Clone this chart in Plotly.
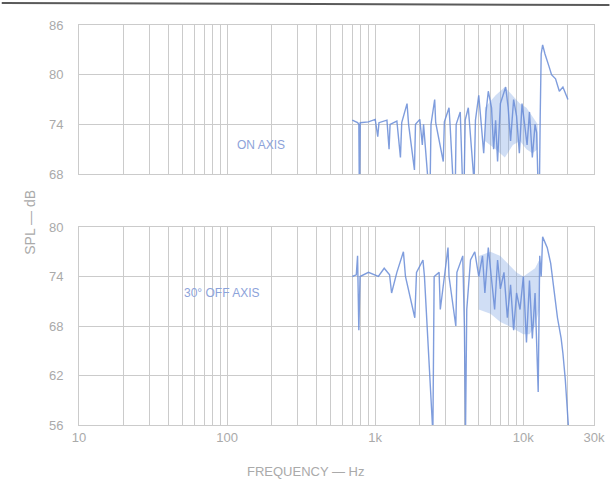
import plotly.graph_objects as go
from plotly.subplots import make_subplots

# ---------------- data ----------------
on_f = [700, 760, 775, 783, 792, 900, 1000, 1040, 1060, 1200, 1240, 1260, 1400, 1480, 1510,
        1640, 1680, 1840, 1870, 2000, 2080, 2120, 2300, 2340, 2380, 2520, 2560, 2880, 2930,
        3150, 3200, 3450, 3520, 3750, 3950, 4050, 4250, 4350, 4650, 4750, 5000,
        5200, 5400, 5600, 5800, 6100, 6300, 6500, 6700, 7000, 7300, 7600, 7900, 8200, 8600,
        9000, 9400, 9800, 10200, 10600, 11000, 11500, 12000, 12300, 12600, 12800, 13000,
        13200, 13500, 14000, 14900, 15500, 16500, 17500, 18500, 19500, 20000]
on_db = [74.5, 74.2, 74.0, 63.5, 74.2, 74.3, 74.6, 72.5, 74.2, 74.5, 71.0, 74.0, 74.4, 70.0, 74.2,
         76.5, 74.0, 68.5, 74.0, 74.6, 71.5, 74.0, 66.0, 64.8, 74.0, 77.0, 74.2, 69.5, 74.3,
         76.0, 74.0, 63.0, 74.0, 75.5, 63.0, 74.5, 76.0, 74.0, 67.0, 74.5, 77.5,
         74.0, 70.5, 75.5, 78.0, 76.0, 71.0, 74.5, 69.5, 76.5, 77.5, 78.5, 76.0, 72.0, 77.0,
         75.0, 70.5, 76.5, 74.0, 71.5, 75.5, 70.0, 74.0, 73.0, 66.0, 64.0, 75.0,
         82.5, 83.6, 82.5, 81.0, 80.0, 79.5, 78.0, 78.5, 77.5, 77.0]

off_f = [700, 745, 760, 775, 790, 900, 1050, 1150, 1250, 1290, 1400, 1550, 1600, 1850, 1900,
         2100, 2150, 2400, 2450, 2500, 2700, 2750, 3100, 3150, 3500, 3560, 3900, 4000, 4070,
         4150, 4400, 4700, 5000, 5300, 5500, 5800, 6100, 6400, 6700, 7000, 7400, 7800, 8200,
         8600, 9000, 9500, 10000, 10500, 11000, 11500, 12000, 12600, 12900, 13200, 13500,
         14000, 14500, 15300, 16000, 17000, 18000, 18500, 19200, 19700, 20000, 20300]
off_db = [74.0, 74.2, 76.5, 67.5, 74.0, 74.5, 74.0, 75.0, 74.2, 72.0, 74.5, 77.0, 74.0, 69.0, 74.5,
          76.0, 74.0, 57.0, 55.0, 74.0, 74.5, 70.0, 77.5, 74.0, 68.0, 74.5, 76.5, 68.0, 55.0,
          70.0, 76.0, 77.0, 74.0, 76.5, 72.0, 77.5, 74.0, 70.0, 76.0, 72.5, 74.5, 69.0, 73.0,
          67.5, 72.0, 70.0, 74.0, 66.0, 73.5, 66.5, 72.0, 60.0, 76.5, 74.0, 78.8,
          78.0, 77.5, 75.6, 72.5, 69.0, 66.5, 64.7, 61.5, 59.0, 58.0, 55.0]

on_band_f = [5500, 6500, 7500, 8500, 9500, 10500, 11500, 12500]
on_band_hi = [76.0, 77.5, 78.5, 77.5, 76.5, 76.0, 75.0, 74.0]
on_band_lo = [72.0, 71.0, 70.0, 71.5, 72.0, 71.0, 70.5, 71.0]

off_band_f = [5000, 6000, 7000, 8000, 9000, 10000, 11000, 12000, 12800]
off_band_hi = [76.5, 77.0, 76.5, 75.5, 74.5, 74.0, 74.5, 75.0, 76.0]
off_band_lo = [70.0, 69.5, 68.5, 68.0, 67.5, 67.0, 67.0, 68.0, 70.0]

x_tickvals = [10, 100, 1000, 10000, 30000]
x_ticktext = ["10", "100", "1k", "10k", "30k"]
x_minor = [m * d for d in (10, 100, 1000) for m in range(2, 10)] + [20000]
top_yticks = [68, 74, 80, 86]
bot_yticks = [56, 62, 68, 74, 80]

# ---------------- figure ----------------
GRID = "#cbcbcb"
TXT = "#aaaaaa"
LINE = "rgba(105,140,215,0.85)"
BAND = "rgba(120,160,225,0.35)"

fig = make_subplots(rows=2, cols=1, shared_xaxes=False, vertical_spacing=0.1325,
                    row_heights=[0.3725, 0.495])

def band(f, hi, lo, row):
    fig.add_trace(go.Scatter(x=f + f[::-1], y=hi + lo[::-1], fill="toself",
                             fillcolor=BAND, line=dict(width=0), mode="lines",
                             hoverinfo="skip", showlegend=False), row=row, col=1)

band(on_band_f, on_band_hi, on_band_lo, 1)
band(off_band_f, off_band_hi, off_band_lo, 2)

fig.add_trace(go.Scatter(x=on_f, y=on_db, mode="lines", line=dict(color=LINE, width=1.4),
                         showlegend=False, name="On axis"), row=1, col=1)
fig.add_trace(go.Scatter(x=off_f, y=off_db, mode="lines", line=dict(color=LINE, width=1.4),
                         showlegend=False, name="30° off axis"), row=2, col=1)

xcommon = dict(type="log", range=[1, 4.4771], tickvals=x_tickvals, showgrid=True,
               gridcolor=GRID, gridwidth=1, showline=True, linecolor=GRID, mirror=True,
               zeroline=False, ticks="",
               minor=dict(tickvals=x_minor, showgrid=True, gridcolor=GRID, gridwidth=1, ticks=""),
               tickfont=dict(family="Liberation Sans", size=13, color=TXT))
fig.update_xaxes(**xcommon, row=1, col=1, showticklabels=False)
fig.update_xaxes(**xcommon, row=2, col=1, ticktext=x_ticktext, showticklabels=True)

ycommon = dict(showgrid=True, gridcolor=GRID, gridwidth=1, showline=True, linecolor=GRID,
               mirror=True, zeroline=False, ticks="", ticklabelstandoff=12,
               tickfont=dict(family="Liberation Sans", size=13, color=TXT))
fig.update_yaxes(**ycommon, range=[68, 86], tickvals=top_yticks, row=1, col=1)
fig.update_yaxes(**ycommon, range=[56, 80], tickvals=bot_yticks, row=2, col=1)

fig.add_annotation(text="ON AXIS", x=2.232, y=71.5, xref="x", yref="y", showarrow=False,
                   font=dict(family="Liberation Sans", size=12, color="#8da3da"))
fig.add_annotation(text="30° OFF AXIS", x=1.967, y=72.0, xref="x2", yref="y2", showarrow=False,
                   font=dict(family="Liberation Sans", size=12, color="#8da3da"))
fig.add_annotation(text="SPL — dB", x=-0.115, y=0.5075, xref="paper", yref="paper",
                   textangle=-90, showarrow=False,
                   font=dict(family="Liberation Sans", size=14, color=TXT))
fig.add_annotation(text="FREQUENCY — Hz", x=0.44, y=-0.14, xref="paper", yref="paper",
                   showarrow=False, font=dict(family="Liberation Sans", size=13, color=TXT))

# scan edge at the top
fig.add_shape(type="line", xref="paper", yref="paper", x0=-0.15, x1=1.03, y0=1.055, y1=1.05,
              line=dict(color="#5a5a5a", width=2))

fig.update_layout(width=616, height=484, margin=dict(l=79, r=11, t=25, b=59),
                  paper_bgcolor="white", plot_bgcolor="white", showlegend=False)

fig.write_html("out.html")
